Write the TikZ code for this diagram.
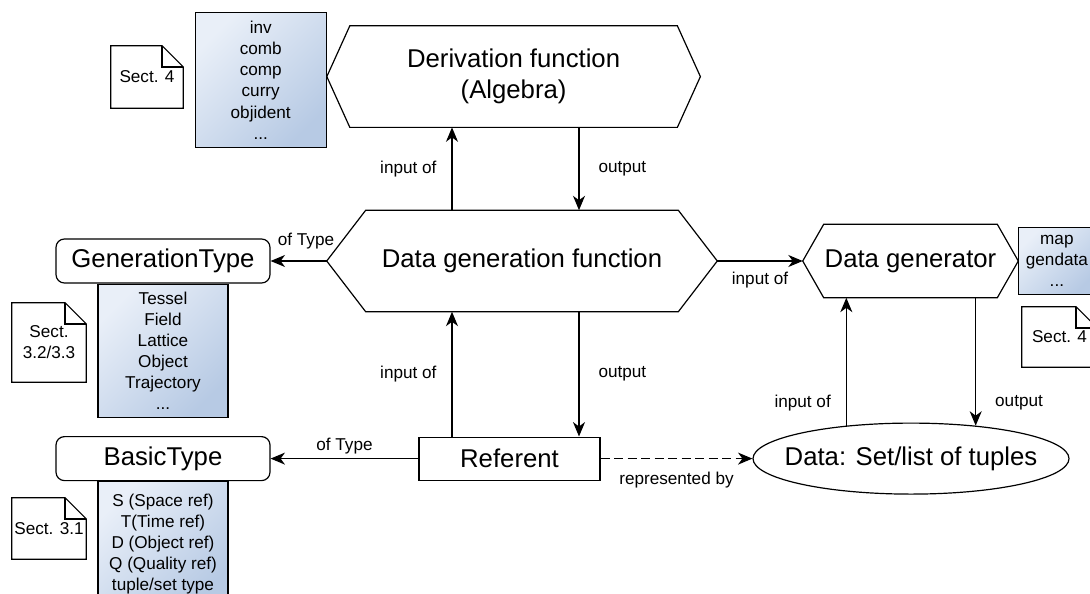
\documentclass[tikz,border=0pt]{standalone}
\usepackage{fontspec}
\setmainfont{Liberation Sans}
\usetikzlibrary{positioning,arrows.meta,shapes.geometric}
\definecolor{listlight}{HTML}{E9EFF8}
\definecolor{listdark}{HTML}{B7CAE4}
\newcommand{\bigtxt}{\fontsize{18.3}{22}\selectfont}
\newcommand{\smalltxt}{\fontsize{12.2}{15}\selectfont}
% hexagon outline round a node: #1 node, #2 how far the tips stick out
\newcommand{\hexframe}[2]{%
  \draw[shp] ([xshift=#2]#1.north west) -- ([xshift=-#2]#1.north east) -- (#1.east)
    -- ([xshift=-#2]#1.south east) -- ([xshift=#2]#1.south west) -- (#1.west) -- cycle;}
% page with a dog-ear round a node
\newcommand{\dogear}[1]{%
  \draw[shp] (#1.north west) -- ([xshift=-\fd]#1.north east) -- ([yshift=-\fd]#1.north east)
    -- (#1.south east) -- (#1.south west) -- cycle;
  \draw[shp] ([xshift=-\fd]#1.north east) -- ([xshift=-\fd,yshift=-\fd]#1.north east)
    -- ([yshift=-\fd]#1.north east);}

\begin{document}
\begin{tikzpicture}[
  font=\smalltxt,
  >={Stealth[length=3.6mm,width=3.0mm,inset=1.1mm]},
  shp/.style={draw=black, line width=0.85pt},
  hexa/.style={rectangle, inner sep=0pt, align=center, font=\bigtxt},
  ent/.style={draw=black, line width=0.85pt, inner sep=0pt, font=\bigtxt},
  typ/.style={ent, rounded corners=6pt, minimum width=53.5mm, minimum height=11mm},
  lst/.style={draw=black, line width=0.85pt, top color=listlight, bottom color=listdark,
              shading angle=45, align=center, inner xsep=2pt, inner ysep=5.5pt},
  doc/.style={align=center, inner sep=0pt},
  ar/.style={->, draw=black, line width=0.85pt},
  arD/.style={ar, dash pattern=on 6.4pt off 3.2pt},
  tag/.style={inner sep=1.5pt}
]
\path[use as bounding box, fill=white] (0,0) rectangle (27.25,14.825);

% ==== geometry
\def\fd{0.53cm}                    % dog-ear size
\def\yrow{8.30}   \def\ylow{3.36}  % middle row, bottom row
\coordinate (xin)  at (11.30,0);
\coordinate (xout) at (14.475,0);

% ==== functions
\node[hexa, minimum width=93.25mm, minimum height=25.25mm] (deriv) at (12.84,12.91)
     {Derivation function\\(Algebra)};
\hexframe{deriv}{5.75mm}
\node[hexa, minimum width=97.5mm, minimum height=25.25mm] (dgf) at (13.05,\yrow)
     {Data generation function};
\hexframe{dgf}{9.75mm}
\node[hexa, minimum width=53.75mm, minimum height=18.25mm] (dgen) at (22.7625,\yrow)
     {Data generator};
\hexframe{dgen}{5.25mm}

% ==== referent and data
\node[ent, minimum width=45.25mm, minimum height=10.75mm] (ref) at (12.7375,\ylow) {Referent};
\node[ent, ellipse, minimum width=79mm, minimum height=17.75mm] (data) at (22.775,\ylow)
     {\makebox[0pt]{Data: Set/list of tuples}};

% ==== types and their values
\node[typ] (gentype) at (4.075,\yrow) {GenerationType};
\node[typ] (basictype) at (4.075,\ylow) {BasicType};
\node[lst, minimum width=32.5mm, below=0pt of gentype] (genlist)
     {Tessel\\Field\\Lattice\\Object\\Trajectory\\...};
\node[lst, minimum width=32.5mm, inner ysep=8.5pt, below=0pt of basictype] (basiclist)
     {S (Space ref)\\T(Time ref)\\D (Object ref)\\Q (Quality ref)\\tuple/set type};
\node[lst, minimum width=32.75mm, inner ysep=6pt, left=0pt of deriv, yshift=-0.09cm] (derivlist)
     {inv\\comb\\comp\\curry\\objident\\...};
\node[lst, minimum width=19mm, minimum height=16.25mm, right=0pt of dgen] (opslist)
     {map\\gendata\\...};

% ==== section notes
\node[doc, minimum width=18mm, minimum height=15.5mm] (sec4a) at (3.675,12.9) {Sect. 4};
\dogear{sec4a}
\node[doc, minimum width=18.5mm, minimum height=19.75mm] (sec32) at (1.225,6.2625) {Sect.\\3.2/3.3};
\dogear{sec32}
\node[doc, minimum width=18.5mm, minimum height=15.25mm] (sec31) at (1.225,1.6125) {Sect. 3.1};
\dogear{sec31}
\node[doc, minimum width=18.75mm, minimum height=15mm] (sec4b) at (26.4875,6.4) {Sect. 4};
\dogear{sec4b}

% ==== connectors
\draw[ar] (dgf.north -| xin) -- node[tag, left=3.2mm] {input of} (deriv.south -| xin);
\draw[ar] (deriv.south -| xout) -- node[tag, right=4.2mm] {output} (dgf.north -| xout);
\draw[ar] (ref.north -| xin) -- node[tag, left=3.2mm] {input of} (dgf.south -| xin);
\draw[ar] (dgf.south -| xout) -- node[tag, right=4.2mm] {output} (ref.north -| xout);
\draw[ar] (dgf.west) -- node[tag, above=2.2mm, pos=0.37] {of Type} (gentype.east);
\draw[ar] (ref.west) -- node[tag, above=0.5mm] {of Type} (basictype.east);
\draw[ar] (dgf.east) -- node[tag, below=2mm] {input of} (dgen.west);
\draw[arD] (ref.east) -- node[tag, below=2.8mm] {represented by} (data.west);
\draw[ar] (data.153) -- node[tag, left=3.2mm, pos=0.18] {input of} (data.153 |- dgen.south);
\draw[ar] (dgen.south -| data.27) -- node[tag, right=4.2mm, pos=0.82] {output} (data.27);

\end{tikzpicture}
\end{document}
